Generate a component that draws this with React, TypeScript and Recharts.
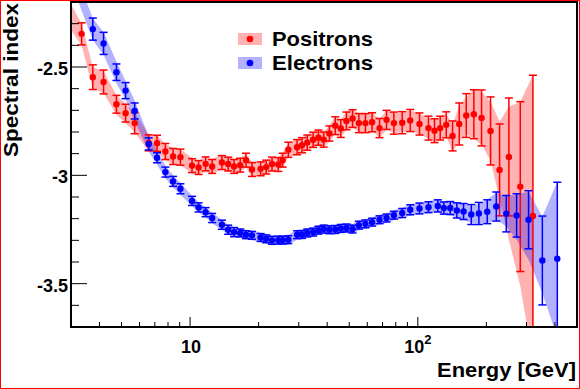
import React from 'react';
import {
  ComposedChart,
  XAxis,
  YAxis,
  Area,
  Scatter,
  ErrorBar,
  ReferenceArea,
  Legend,
  Label,
} from 'recharts';

const FONT = "'Liberation Sans', Arial, Helvetica, sans-serif";

// ---------- Positrons ----------
const posE = [
  3.34, 3.74, 4.17, 4.75, 5.21, 5.71, 6.58, 7.16, 7.79, 8.42,
  9.07, 10.2, 10.9, 11.7, 12.5, 13.8, 14.7, 15.6, 16.6, 17.6,
  18.7, 20.4, 21.6, 22.9, 24.4, 25.5, 27.0, 29.5, 31.0, 32.7,
  34.7, 36.6, 38.6, 40.9, 43.4, 45.9, 48.6, 51.7, 55.1, 58.9,
  63.0, 67.9, 72.9, 78.5, 85.4, 92.6, 101.7, 111.4, 118.4, 125.4,
  133.3, 142.1, 152.0, 163.2, 176.2, 190.5, 208.6, 228.6, 251.1, 281.8,
  320.2,
];
const posIdx = [
  -2.347, -2.547, -2.569, -2.672, -2.713, -2.759, -2.85, -2.852, -2.89, -2.913,
  -2.916, -2.955, -2.964, -2.947, -2.959, -2.941, -2.948, -2.959, -2.953, -2.93,
  -2.973, -2.97, -2.962, -2.948, -2.95, -2.93, -2.882, -2.87, -2.861, -2.849,
  -2.836, -2.826, -2.835, -2.807, -2.771, -2.784, -2.749, -2.738, -2.759, -2.759,
  -2.755, -2.782, -2.744, -2.759, -2.757, -2.747, -2.763, -2.782, -2.794, -2.782,
  -2.767, -2.818, -2.763, -2.724, -2.718, -2.735, -2.795, -2.975, -2.915, -3.052,
  -3.188,
];
const posErr = [
  0.051, 0.057, 0.055, 0.041, 0.041, 0.049, 0.037, 0.037, 0.037, 0.037,
  0.037, 0.032, 0.032, 0.032, 0.032, 0.032, 0.032, 0.032, 0.032, 0.032,
  0.032, 0.032, 0.032, 0.032, 0.032, 0.032, 0.035, 0.035, 0.035, 0.035,
  0.035, 0.035, 0.035, 0.035, 0.041, 0.041, 0.041, 0.041, 0.044, 0.044,
  0.044, 0.044, 0.044, 0.051, 0.051, 0.051, 0.051, 0.055, 0.055, 0.055,
  0.06, 0.069, 0.097, 0.101, 0.113, 0.129, 0.157, 0.212, 0.272, 0.392,
  0.65,
];
const posBandE = [
  3.0, 3.34, 3.74, 4.17, 4.75, 5.21, 5.71, 6.58, 7.16, 7.79,
  8.42, 9.07, 10.2, 10.9, 11.7, 12.5, 13.8, 14.7, 15.6, 16.6,
  17.6, 18.7, 20.4, 21.6, 22.9, 24.4, 25.5, 27.0, 29.5, 31.0,
  32.7, 34.7, 36.6, 38.6, 40.9, 43.4, 45.9, 48.6, 51.7, 55.1,
  58.9, 63.0, 67.9, 72.9, 78.5, 85.4, 92.6, 101.7, 111.4, 118.4,
  125.4, 133.3, 142.1, 152.0, 163.2, 176.2, 190.5, 208.6, 228.6, 251.1,
  281.8, 320.2,
];
const posBandLo = [
  -2.33, -2.4, -2.6, -2.62, -2.72, -2.76, -2.8, -2.89, -2.895, -2.93,
  -2.95, -2.955, -2.99, -2.995, -2.985, -2.99, -2.975, -2.98, -2.99, -2.985,
  -2.965, -3.005, -3.0, -2.995, -2.98, -2.98, -2.96, -2.915, -2.905, -2.895,
  -2.885, -2.87, -2.86, -2.87, -2.845, -2.81, -2.825, -2.79, -2.78, -2.8,
  -2.8, -2.795, -2.825, -2.79, -2.805, -2.8, -2.795, -2.81, -2.83, -2.845,
  -2.835, -2.82, -2.89, -2.845, -2.81, -2.83, -2.86, -2.93, -3.113, -3.297,
  -3.512, -3.85,
];
const posBandHi = [
  -2.21, -2.3, -2.5, -2.52, -2.63, -2.67, -2.71, -2.81, -2.815, -2.855,
  -2.875, -2.88, -2.92, -2.93, -2.915, -2.925, -2.905, -2.915, -2.925, -2.92,
  -2.9, -2.94, -2.94, -2.93, -2.915, -2.915, -2.895, -2.85, -2.835, -2.825,
  -2.815, -2.8, -2.79, -2.8, -2.77, -2.73, -2.745, -2.705, -2.695, -2.715,
  -2.715, -2.71, -2.74, -2.7, -2.715, -2.71, -2.7, -2.715, -2.735, -2.745,
  -2.73, -2.715, -2.765, -2.68, -2.64, -2.6, -2.615, -2.66, -2.752, -2.683,
  -2.66, -2.537,
];

// ---------- Electrons ----------
const elecE = [
  3.74, 4.17, 4.75, 5.21, 5.71, 6.58, 7.16, 7.79, 8.42, 9.07,
  10.2, 10.9, 11.7, 12.5, 13.8, 14.7, 15.6, 16.6, 17.6, 18.7,
  20.4, 21.6, 22.9, 24.4, 25.5, 27.0, 29.5, 31.0, 32.7, 34.7,
  36.6, 38.6, 40.9, 43.4, 45.9, 48.6, 51.7, 55.1, 58.9, 63.0,
  67.9, 72.9, 78.5, 85.4, 92.6, 101.7, 111.4, 122.4, 130.1, 138.8,
  148.4, 158.8, 171.7, 185.4, 201.8, 221.1, 244.6, 271.5, 306.4, 352.2,
  409.7,
];
const elecIdx = [
  -2.325, -2.391, -2.524, -2.609, -2.703, -2.855, -2.919, -2.985, -3.028, -3.062,
  -3.118, -3.148, -3.17, -3.197, -3.228, -3.251, -3.262, -3.266, -3.274, -3.277,
  -3.287, -3.293, -3.3, -3.299, -3.299, -3.297, -3.274, -3.273, -3.266, -3.262,
  -3.253, -3.248, -3.251, -3.25, -3.245, -3.243, -3.248, -3.23, -3.224, -3.216,
  -3.205, -3.197, -3.184, -3.174, -3.159, -3.153, -3.147, -3.141, -3.151, -3.151,
  -3.162, -3.167, -3.181, -3.176, -3.168, -3.144, -3.177, -3.185, -3.205, -3.393,
  -3.385,
];
const elecErr = [
  0.051, 0.051, 0.038, 0.037, 0.037, 0.028, 0.023, 0.023, 0.023, 0.023,
  0.021, 0.021, 0.021, 0.021, 0.021, 0.021, 0.021, 0.018, 0.018, 0.018,
  0.018, 0.018, 0.018, 0.018, 0.018, 0.018, 0.018, 0.018, 0.018, 0.018,
  0.018, 0.018, 0.018, 0.018, 0.018, 0.018, 0.018, 0.018, 0.018, 0.018,
  0.018, 0.018, 0.018, 0.021, 0.023, 0.025, 0.025, 0.028, 0.028, 0.03,
  0.035, 0.037, 0.046, 0.051, 0.055, 0.067, 0.084, 0.1, 0.134, 0.205,
  0.353,
];
const elecBandE = [
  3.0, 3.34, 3.74, 4.17, 4.75, 5.21, 5.71, 6.58, 7.16, 7.79,
  8.42, 9.07, 10.2, 10.9, 11.7, 12.5, 13.8, 14.7, 15.6, 16.6,
  17.6, 18.7, 20.4, 21.6, 22.9, 24.4, 25.5, 27.0, 29.5, 31.0,
  32.7, 34.7, 36.6, 38.6, 40.9, 43.4, 45.9, 48.6, 51.7, 55.1,
  58.9, 63.0, 67.9, 72.9, 78.5, 85.4, 92.6, 101.7, 111.4, 122.4,
  130.1, 138.8, 148.4, 158.8, 171.7, 185.4, 201.8, 221.1, 244.6, 271.5,
  306.4, 352.2, 409.7,
];
const elecBandLo = [
  -2.1, -2.24, -2.375, -2.445, -2.575, -2.65, -2.75, -2.89, -2.95, -3.015,
  -3.055, -3.09, -3.142, -3.172, -3.194, -3.221, -3.251, -3.274, -3.285, -3.289,
  -3.297, -3.3, -3.31, -3.316, -3.323, -3.322, -3.322, -3.32, -3.297, -3.296,
  -3.289, -3.285, -3.276, -3.271, -3.274, -3.273, -3.268, -3.266, -3.271, -3.253,
  -3.247, -3.239, -3.228, -3.22, -3.207, -3.198, -3.185, -3.18, -3.175, -3.17,
  -3.181, -3.183, -3.197, -3.205, -3.22, -3.223, -3.22, -3.205, -3.236, -3.297,
  -3.389, -3.543, -3.75,
];
const elecBandHi = [
  -2.0, -2.14, -2.275, -2.34, -2.475, -2.565, -2.655, -2.82, -2.885, -2.955,
  -3.0, -3.035, -3.094, -3.124, -3.146, -3.173, -3.205, -3.228, -3.239, -3.243,
  -3.251, -3.254, -3.264, -3.27, -3.277, -3.276, -3.276, -3.274, -3.251, -3.25,
  -3.243, -3.239, -3.23, -3.225, -3.228, -3.227, -3.222, -3.22, -3.225, -3.207,
  -3.201, -3.193, -3.182, -3.174, -3.161, -3.15, -3.133, -3.126, -3.119, -3.112,
  -3.121, -3.119, -3.127, -3.129, -3.144, -3.131, -3.113, -3.079, -3.098, -3.09,
  -3.075, -3.19, -3.031,
];

// ---------- Axes ----------
const xDomain = [3, 500];
const yDomain = [-3.7, -2.2];
const xTicks = [4, 5, 6, 7, 8, 9, 10, 20, 30, 40, 50, 60, 70, 80, 90, 100, 200, 300, 400];
const yTicks = [-3.6, -3.5, -3.4, -3.3, -3.2, -3.1, -3.0, -2.9, -2.8, -2.7, -2.6, -2.5, -2.4, -2.3];
const xMajor = [10, 100];
const yMajor = [-3.5, -3.0, -2.5];

const RED = '#ff0000';
const BLUE = '#0000ff';

const posPoints = posE.map((e, i) => ({ e, v: posIdx[i], err: posErr[i] }));
const elecPoints = elecE.map((e, i) => ({ e, v: elecIdx[i], err: elecErr[i] }));
const posBand = posBandE.map((e, i) => ({ e, band: [posBandLo[i], posBandHi[i]] }));
const elecBand = elecBandE.map((e, i) => ({ e, band: [elecBandLo[i], elecBandHi[i]] }));

// error bars are cut at the frame of the plot, like the reference
const clippedErr = (d: any) => [
  Math.min(d.err, d.v - yDomain[0]),
  Math.min(d.err, yDomain[1] - d.v),
];

const XTick = (props: any) => {
  const { x, y, payload } = props;
  const v = payload.value;
  const major = xMajor.includes(v);
  return (
    <g>
      <line x1={x} x2={x} y1={y} y2={y - (major ? 10 : 5)} stroke="#000" strokeWidth={1} />
      {v === 10 && (
        <text x={x + 1} y={y + 26} textAnchor="middle" fontFamily={FONT} fontWeight="bold" fontSize={18} fill="#000">
          10
        </text>
      )}
      {v === 100 && (
        <text x={x} y={y + 26} textAnchor="middle" fontFamily={FONT} fontWeight="bold" fontSize={18} fill="#000">
          10
          <tspan dy={-9} fontSize={13}>2</tspan>
        </text>
      )}
    </g>
  );
};

const YTick = (props: any) => {
  const { x, y, payload } = props;
  const v = payload.value;
  const major = yMajor.some((m) => Math.abs(m - v) < 1e-6);
  return (
    <g>
      <line x1={x} x2={x + (major ? 16 : 8)} y1={y} y2={y} stroke="#000" strokeWidth={1} />
      {major && (
        <text x={x - 3} y={y + 8} textAnchor="end" fontFamily={FONT} fontWeight="bold" fontSize={18} fill="#000">
          {String(v)}
        </text>
      )}
    </g>
  );
};

const YTitle = (props: any) => {
  const vb = props.viewBox || { x: 0, y: 2 };
  return (
    <text
      transform={`translate(${vb.x + 18},${vb.y + 155}) rotate(-90)`}
      fontFamily={FONT}
      fontWeight="bold"
      fontSize={20}
      fill="#000"
      textLength={154}
      lengthAdjust="spacingAndGlyphs"
    >
      Spectral index
    </text>
  );
};

const XTitle = (props: any) => {
  const vb = props.viewBox || { x: 71, y: 327, width: 506 };
  return (
    <text
      x={vb.x + vb.width - 1}
      y={vb.y + 50}
      textAnchor="end"
      fontFamily={FONT}
      fontWeight="bold"
      fontSize={20}
      fill="#000"
      textLength={139}
      lengthAdjust="spacingAndGlyphs"
    >
      Energy [GeV]
    </text>
  );
};

const legendItems = [
  { name: 'Positrons', color: RED },
  { name: 'Electrons', color: BLUE },
];

const renderLegend = () => (
  <svg width={160} height={52} style={{ display: 'block' }}>
    {legendItems.map((it, i) => (
      <g key={it.name} transform={`translate(0,${i * 24})`}>
        <rect x={8} y={7} width={24} height={12} fill={it.color} fillOpacity={0.3} />
        <circle cx={20} cy={13} r={3.3} fill={it.color} />
        <text
          x={42}
          y={20}
          fontFamily={FONT}
          fontWeight="bold"
          fontSize={21}
          fill="#000"
          textLength={101}
          lengthAdjust="spacingAndGlyphs"
        >
          {it.name}
        </text>
      </g>
    ))}
  </svg>
);

const Dot = (color: string) => (props: any) => {
  const { cx, cy } = props;
  if (cx == null || cy == null) return null;
  return <circle cx={cx} cy={cy} r={3.2} fill={color} />;
};

export default function App() {
  return (
    <div style={{ position: 'absolute', left: 0, top: 0, width: 580, height: 389, background: '#fff' }}>
      <ComposedChart width={580} height={389} margin={{ top: 2, right: 3, bottom: 0, left: 0 }}>
        <XAxis
          dataKey="e"
          type="number"
          scale="log"
          domain={xDomain}
          allowDataOverflow
          ticks={xTicks}
          interval={0}
          tickLine={false}
          tickSize={0}
          tickMargin={0}
          axisLine={{ stroke: '#000', strokeWidth: 2 }}
          tick={<XTick />}
          height={62}
        >
          <Label content={<XTitle />} />
        </XAxis>
        <YAxis
          type="number"
          domain={yDomain}
          allowDataOverflow
          ticks={yTicks}
          interval={0}
          tickLine={false}
          tickSize={0}
          tickMargin={0}
          axisLine={{ stroke: '#000', strokeWidth: 2 }}
          tick={<YTick />}
          width={71}
        >
          <Label content={<YTitle />} />
        </YAxis>
        <Area
          data={posBand}
          dataKey="band"
          type="linear"
          stroke="none"
          fill={RED}
          fillOpacity={0.3}
          dot={false}
          activeDot={false}
          isAnimationActive={false}
        />
        <Scatter data={posPoints} dataKey="v" fill={RED} shape={Dot(RED)} isAnimationActive={false}>
          <ErrorBar dataKey={clippedErr} direction="y" width={4} stroke={RED} strokeWidth={1.5} isAnimationActive={false} />
        </Scatter>
        <Area
          data={elecBand}
          dataKey="band"
          type="linear"
          stroke="none"
          fill={BLUE}
          fillOpacity={0.3}
          dot={false}
          activeDot={false}
          isAnimationActive={false}
        />
        <Scatter data={elecPoints} dataKey="v" fill={BLUE} shape={Dot(BLUE)} isAnimationActive={false}>
          <ErrorBar dataKey={clippedErr} direction="y" width={4} stroke={BLUE} strokeWidth={1.5} isAnimationActive={false} />
        </Scatter>
        <ReferenceArea
          x1={xDomain[0]}
          x2={xDomain[1]}
          y1={yDomain[0]}
          y2={yDomain[1]}
          fill="none"
          stroke="#000"
          strokeWidth={2}
          ifOverflow="visible"
        />
        <Legend
          layout="vertical"
          align="center"
          verticalAlign="middle"
          content={renderLegend}
          wrapperStyle={{ position: 'absolute', left: 230, top: 26, width: 160, height: 52 }}
        />
      </ComposedChart>
      <div
        style={{
          position: 'absolute',
          left: 0,
          top: 0,
          width: 580,
          height: 389,
          border: '1px solid #ff0000',
          boxSizing: 'border-box',
          pointerEvents: 'none',
        }}
      />
    </div>
  );
}
